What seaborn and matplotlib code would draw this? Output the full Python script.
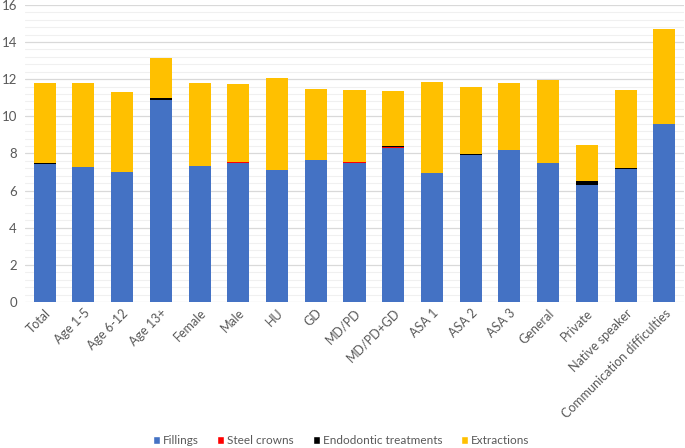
import numpy as np
import pandas as pd
import matplotlib
matplotlib.use("Agg")
import matplotlib.pyplot as plt
from matplotlib.patches import Patch
import seaborn as sns

# values
groups = ["Total", "Age 1-5", "Age 6-12", "Age 13+", "Female", "Male", "HU", "GD",
          "MD/PD", "MD/PD+GD", "ASA 1", "ASA 2", "ASA 3", "General", "Private",
          "Native speaker", "Communication difficulties"]
fillings = [7.42, 7.26, 6.99, 10.88, 7.33, 7.50, 7.11, 7.63, 7.48, 8.31, 6.93, 7.90,
            8.17, 7.47, 6.29, 7.17, 9.57]
steel_crowns = [0.02, 0.01, 0.01, 0.01, 0.01, 0.02, 0.01, 0.01, 0.06, 0.01, 0.01, 0.01,
                0.01, 0.01, 0.01, 0.01, 0.01]
endodontic = [0.04, 0.01, 0.01, 0.12, 0.01, 0.03, 0.01, 0.01, 0.02, 0.08, 0.01, 0.05,
              0.02, 0.02, 0.19, 0.02, 0.02]
extractions = [4.30, 4.54, 4.29, 2.14, 4.47, 4.20, 4.92, 3.84, 3.88, 2.97, 4.92, 3.61,
               3.62, 4.44, 1.99, 4.20, 5.11]

series = ["Fillings", "Steel crowns", "Endodontic treatments", "Extractions"]
colors = ["#4472C4", "#FF0000", "#000000", "#FFC000"]

df = pd.DataFrame({"group": groups, "Fillings": fillings, "Steel crowns": steel_crowns,
                   "Endodontic treatments": endodontic, "Extractions": extractions})
cum = df[series].cumsum(axis=1)

sns.set_style("white")
plt.rcParams["font.family"] = ["Lato", "DejaVu Sans"]
text_col = "#595959"

fig = plt.figure(figsize=(6.85, 4.48), dpi=100)
ax = fig.add_axes([0.037, 0.326, 0.961, 0.663])

# stack by drawing cumulative totals from the top layer down
for name, col in reversed(list(zip(series, colors))):
    sns.barplot(x=df["group"], y=cum[name], color=col, width=0.57, ax=ax,
                saturation=1, edgecolor="none", zorder=3)

ax.set_ylim(0, 16)
ax.set_yticks(np.arange(0, 17, 2))
ax.set_yticks(np.arange(0, 16.01, 0.4), minor=True)
ax.grid(axis="y", which="major", color="#D9D9D9", linewidth=0.9, zorder=0)
ax.grid(axis="y", which="minor", color="#F0F0F0", linewidth=0.8, zorder=0)
ax.set_axisbelow(True)
ax.set_xlim(-0.5, len(groups) - 0.5)
for s in ax.spines.values():
    s.set_visible(False)
ax.set_xlabel("")
ax.set_ylabel("")
ax.tick_params(axis="both", which="both", length=0, labelsize=9.5, labelcolor=text_col)
ax.tick_params(axis="y", pad=6)
ax.set_xticks(range(len(groups)))
ax.set_xticklabels(groups, rotation=45, ha="right", rotation_mode="anchor", fontsize=9)

handles = [Patch(facecolor=c, label=n) for n, c in zip(series, colors)]
fig.legend(handles=handles, loc="center", bbox_to_anchor=(0.498, 0.016), ncol=4,
           frameon=False, fontsize=8.5, handlelength=0.6, handleheight=0.6,
           handletextpad=0.25, columnspacing=1.6, labelcolor=text_col)

fig.savefig("out.png", dpi=100)
